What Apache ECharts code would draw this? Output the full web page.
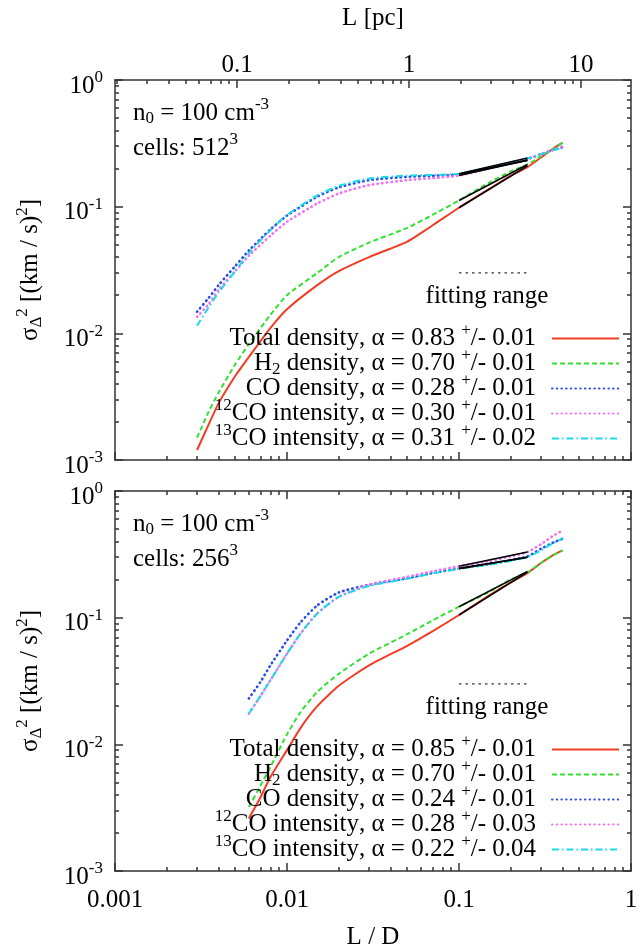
<!DOCTYPE html>
<html>
<head>
<meta charset="utf-8">
<title>Structure functions</title>
<script src="https://cdn.jsdelivr.net/npm/echarts@6/dist/echarts.min.js"></script>
<style>
  html, body { margin: 0; padding: 0; background: #fff; }
  #chart { width: 641px; height: 951px; }
</style>
</head>
<body>
<div id="chart"></div>
<script>
// ---- data ----
// L / D sample positions for each panel
const ldTop = [0.003, 0.0035, 0.004, 0.005, 0.006, 0.008, 0.01, 0.015, 0.02, 0.03, 0.05, 0.07, 0.1, 0.15, 0.2, 0.25, 0.3, 0.35, 0.4];
const ldBot = [0.006, 0.007, 0.008, 0.01, 0.012, 0.015, 0.02, 0.03, 0.05, 0.07, 0.1, 0.15, 0.2, 0.25, 0.3, 0.35, 0.4];

// top panel (512^3 cells)
const topTotal = [0.0012, 0.0019, 0.0028, 0.0046, 0.0065, 0.011, 0.0155, 0.024, 0.031, 0.040, 0.053, 0.071, 0.098, 0.138, 0.175, 0.205, 0.245, 0.285, 0.32];
const topH2 = [0.0015, 0.0024, 0.0034, 0.0057, 0.0082, 0.014, 0.020, 0.030, 0.040, 0.052, 0.068, 0.086, 0.112, 0.155, 0.19, 0.215, 0.25, 0.285, 0.32];
const topCO = [0.0148, 0.019, 0.024, 0.034, 0.045, 0.066, 0.085, 0.12, 0.142, 0.162, 0.172, 0.175, 0.18, 0.203, 0.222, 0.238, 0.26, 0.28, 0.295];
const top12CO = [0.0135, 0.017, 0.022, 0.031, 0.041, 0.059, 0.076, 0.106, 0.127, 0.148, 0.162, 0.168, 0.176, 0.20, 0.22, 0.238, 0.26, 0.28, 0.30];
const top13CO = [0.0115, 0.016, 0.021, 0.031, 0.043, 0.065, 0.086, 0.123, 0.146, 0.167, 0.176, 0.178, 0.182, 0.205, 0.224, 0.24, 0.26, 0.278, 0.29];

// bottom panel (256^3 cells)
const botTotal = [0.0026, 0.0038, 0.0055, 0.009, 0.0135, 0.020, 0.029, 0.042, 0.060, 0.078, 0.105, 0.15, 0.19, 0.225, 0.27, 0.31, 0.34];
const botH2 = [0.0032, 0.0047, 0.0066, 0.012, 0.018, 0.026, 0.036, 0.052, 0.074, 0.095, 0.122, 0.16, 0.20, 0.228, 0.27, 0.31, 0.34];
const botCO = [0.023, 0.031, 0.042, 0.066, 0.092, 0.125, 0.158, 0.182, 0.205, 0.225, 0.245, 0.265, 0.285, 0.305, 0.35, 0.39, 0.42];
const bot12CO = [0.0175, 0.024, 0.032, 0.052, 0.075, 0.108, 0.146, 0.182, 0.21, 0.232, 0.255, 0.28, 0.305, 0.33, 0.38, 0.44, 0.49];
const bot13CO = [0.0175, 0.024, 0.032, 0.052, 0.075, 0.108, 0.146, 0.178, 0.203, 0.223, 0.243, 0.262, 0.28, 0.30, 0.34, 0.385, 0.42];

// fitted power laws (black segments), end values at the fitting range limits
const fitRange = [0.1, 0.25];
const topFitStart = [0.098, 0.112, 0.18, 0.176, 0.182];
const topFitEnd = [0.21, 0.215, 0.232, 0.233, 0.242];
const botFitStart = [0.105, 0.122, 0.245, 0.255, 0.243];
const botFitEnd = [0.229, 0.232, 0.30, 0.33, 0.30];
const fitMarkerY = 0.03;

// legend texts
const species = ['Total density', 'H2 density', 'CO density', '12CO intensity', '13CO intensity'];
const speciesRich = ['{t|Total density}', '{t|H}{d|2}{t| density}', '{t|CO density}', '{u|12}{t|CO intensity}', '{u|13}{t|CO intensity}'];
const alphaTop = ['0.83', '0.70', '0.28', '0.30', '0.31'];
const errTop = ['0.01', '0.01', '0.01', '0.01', '0.02'];
const alphaBot = ['0.85', '0.70', '0.24', '0.28', '0.22'];
const errBot = ['0.01', '0.01', '0.01', '0.03', '0.04'];

// axes
const ldMin = 0.001, ldMax = 1;
const boxSizePc = 19.5; // L = (L/D) * D
const yMin = 0.001, yMax = 1;
const ldMajor = [0.001, 0.01, 0.1, 1];
const ldTickLabels = ['0.001', '0.01', '0.1', '1'];
const pcMajor = [0.1, 1, 10];
const pcTickLabels = ['0.1', '1', '10'];
const yMajor = [0.001, 0.01, 0.1, 1];
const yTickExp = ['-3', '-2', '-1', '0'];

// ---- style ----
const FONT = '"Liberation Serif", "DejaVu Serif", serif';
const colors = ['#f23c26', '#33e033', '#2a4fe6', '#ee74ee', '#1adbe6'];
const lineTypes = ['solid', [5, 3], [0.5, 4.2], [0.5, 4.2], [7, 3, 1.5, 3]];
const lineCaps = ['butt', 'butt', 'round', 'round', 'butt'];
const lineWidths = [2, 2, 2.6, 2.6, 2];
const frame = { color: '#333', width: 1.5 };

// text pieces: t normal, u superscript, d subscript
// (padding shifts the small glyphs up / down inside the line)
const sup = { fontSize: 17, lineHeight: 6, padding: [0, 0, 16, 0], fontFamily: FONT, color: '#000' };
const sub = { fontSize: 17, lineHeight: 6, padding: [12, 0, 0, 0], fontFamily: FONT, color: '#000' };
const rich = {
  t: { fontSize: 25, lineHeight: 25, fontFamily: FONT, color: '#000' },
  u: sup,
  d: sub,
  g: { width: 11, fontSize: 25, lineHeight: 25 }
};

const logMinors = (decades) => {
  const out = [];
  decades.forEach(d => { for (let m = 2; m <= 9; m++) out.push(+(m * d).toPrecision(6)); });
  return out;
};
const ldMinor = logMinors([0.001, 0.01, 0.1]);
const yMinor = logMinors([0.001, 0.01, 0.1]);
const pcMinor = logMinors([0.01, 0.1, 1]);

const pick = (majors, labels) => (v) => {
  const i = majors.findIndex(m => Math.abs(Math.log10(m) - Math.log10(v)) < 1e-6);
  return i < 0 ? '' : labels[i];
};

function mainAxis(gridIndex, position, min, max, majors, label, extra) {
  return Object.assign({
    type: 'log', logBase: 10, gridIndex, position, min, max,
    axisLine: { show: true, onZero: false, lineStyle: frame },
    axisTick: { show: true, inside: true, length: 8, customValues: majors, lineStyle: frame },
    axisLabel: label || { show: false },
    splitLine: { show: false },
    minorTick: { show: false },
    minorSplitLine: { show: false }
  }, extra || {});
}

function minorAxis(gridIndex, position, min, max, minors) {
  return {
    type: 'log', logBase: 10, gridIndex, position, min, max,
    axisLine: { show: false },
    axisTick: { show: true, inside: true, length: 4, customValues: minors, lineStyle: frame },
    axisLabel: { show: false },
    splitLine: { show: false }
  };
}

const xLabelLD = {
  show: true, customValues: ldMajor, margin: 17,
  formatter: pick(ldMajor, ldTickLabels),
  fontFamily: FONT, fontSize: 25, color: '#000'
};
const xLabelPc = {
  show: true, customValues: pcMajor, margin: 2,
  formatter: pick(pcMajor, pcTickLabels),
  fontFamily: FONT, fontSize: 25, color: '#000'
};
const yLabel = {
  show: true, customValues: yMajor, margin: 12, padding: [12, 0, 0, 0],
  formatter: (v) => '{b|10}{s|' + pick(yMajor, yTickExp)(v) + '}',
  rich: {
    b: { fontSize: 25, lineHeight: 25, fontFamily: FONT, color: '#000' },
    s: sup
  }
};
const yName = '{g|σ}{d|Δ}{u|2}{g| [(km / s)}{u|2}{g|]}';
const yNameStyle = {
  rich: {
    g: { fontSize: 25, lineHeight: 25, fontFamily: FONT, color: '#000' },
    d: sub,
    u: sup
  }
};

// x axes: 0-3 top panel, 4-7 bottom panel
const xAxes = [
  mainAxis(0, 'bottom', ldMin, ldMax, ldMajor, null),
  minorAxis(0, 'bottom', ldMin, ldMax, ldMinor),
  mainAxis(0, 'top', ldMin * boxSizePc, ldMax * boxSizePc, pcMajor, xLabelPc, {
    name: 'L [pc]', nameLocation: 'middle', nameGap: 49, nameMoveOverlap: false,
    nameTextStyle: { fontFamily: FONT, fontSize: 25, color: '#000' }
  }),
  minorAxis(0, 'top', ldMin * boxSizePc, ldMax * boxSizePc, pcMinor),
  mainAxis(1, 'bottom', ldMin, ldMax, ldMajor, xLabelLD, {
    name: 'L / D', nameLocation: 'middle', nameGap: 54, nameMoveOverlap: false,
    nameTextStyle: { fontFamily: FONT, fontSize: 25, color: '#000' }
  }),
  minorAxis(1, 'bottom', ldMin, ldMax, ldMinor),
  mainAxis(1, 'top', ldMin, ldMax, ldMajor, null),
  minorAxis(1, 'top', ldMin, ldMax, ldMinor)
];

const yAxes = [];
[0, 1].forEach(g => {
  yAxes.push(mainAxis(g, 'left', yMin, yMax, yMajor, yLabel, {
    name: yName, nameLocation: 'middle', nameGap: 72, nameRotate: 90, nameMoveOverlap: false,
    nameTextStyle: yNameStyle
  }));
  yAxes.push(minorAxis(g, 'left', yMin, yMax, yMinor));
  yAxes.push(mainAxis(g, 'right', yMin, yMax, yMajor, null));
  yAxes.push(minorAxis(g, 'right', yMin, yMax, yMinor));
});

// ---- series ----
const series = [];
const legendRich = {};

function addPanel(panel, ld, curves, alphas, errs, fitStart, fitEnd) {
  const axisIndex = panel * 4;
  const names = [];
  curves.forEach((vals, k) => {
    const name = species[k] + ', α = ' + alphas[k] + ' +/- ' + errs[k];
    names.push(name);
    legendRich[name] = speciesRich[k] + '{t|, α = ' + alphas[k] + ' }{u|+}{t|/- ' + errs[k] + '}{g| }';
    series.push({
      type: 'line', name,
      xAxisIndex: axisIndex, yAxisIndex: axisIndex,
      data: ld.map((x, i) => [x, vals[i]]),
      symbol: 'none', showSymbol: false, smooth: 0.2,
      lineStyle: { color: colors[k], width: lineWidths[k], type: lineTypes[k], cap: lineCaps[k] },
      itemStyle: { color: colors[k] },
      emphasis: { disabled: true },
      z: 2
    });
  });
  fitStart.forEach((v, k) => {
    series.push({
      type: 'line', name: 'fit' + panel + '_' + k,
      xAxisIndex: axisIndex, yAxisIndex: axisIndex,
      data: [[fitRange[0], v], [fitRange[1], fitEnd[k]]],
      symbol: 'none', silent: true,
      lineStyle: { color: '#000', width: 1.6 },
      z: 3
    });
  });
  series.push({
    type: 'line', name: 'range' + panel,
    xAxisIndex: axisIndex, yAxisIndex: axisIndex,
    data: [[fitRange[0], fitMarkerY], [fitRange[1], fitMarkerY]],
    symbol: 'none', silent: true,
    lineStyle: { color: '#333', width: 1.2, type: [2.5, 4] },
    z: 3
  });
  return names;
}

const topNames = addPanel(0, ldTop, [topTotal, topH2, topCO, top12CO, top13CO], alphaTop, errTop, topFitStart, topFitEnd);
const botNames = addPanel(1, ldBot, [botTotal, botH2, botCO, bot12CO, bot13CO], alphaBot, errBot, botFitStart, botFitEnd);

// each legend row is 33px tall (raised "+"), rows overlap to a 25px pitch
const legendBase = {
  orient: 'vertical', align: 'right', right: 21, padding: 0, itemGap: -8,
  itemWidth: 67, itemHeight: 10, selectedMode: false,
  itemStyle: { opacity: 0 },
  formatter: (n) => legendRich[n],
  textStyle: { rich }
};

// top-left annotations and "fitting range" captions
const panelTops = [80, 491];
const cellsText = ['{t|cells: 512}{u|3}', '{t|cells: 256}{u|3}'];
const graphics = [];
panelTops.forEach((top, p) => {
  graphics.push({
    type: 'text', x: 133, y: top + 33,
    style: { text: '{t|n}{d|0}{t| = 100 cm}{u|-3}', rich, verticalAlign: 'middle', align: 'left' }
  });
  graphics.push({
    type: 'text', x: 133, y: top + 68,
    style: { text: cellsText[p], rich, verticalAlign: 'middle', align: 'left' }
  });
  graphics.push({
    type: 'text', x: 487, y: top + 216,
    style: { text: '{t|fitting range}', rich, verticalAlign: 'middle', align: 'center' }
  });
});

const chart = echarts.init(document.getElementById('chart'), null, { renderer: 'canvas' });
chart.setOption({
  animation: false,
  backgroundColor: '#fff',
  grid: [
    { left: 115, top: 80, width: 516, height: 380, containLabel: false, outerBoundsMode: 'none' },
    { left: 115, top: 491, width: 516, height: 380, containLabel: false, outerBoundsMode: 'none' }
  ],
  xAxis: xAxes,
  yAxis: yAxes,
  legend: [
    Object.assign({}, legendBase, { top: 322, data: topNames }),
    Object.assign({}, legendBase, { top: 733, data: botNames })
  ],
  graphic: graphics,
  series
});
</script>
</body>
</html>
